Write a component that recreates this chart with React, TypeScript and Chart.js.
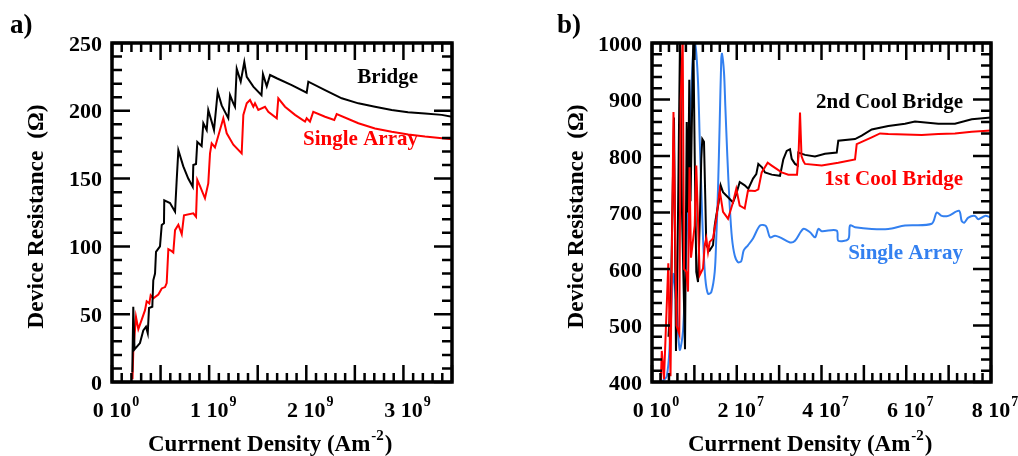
import React, { useEffect, useRef } from "react";
import { Chart, registerables } from "chart.js";

Chart.register(...registerables);

// ---------- Panel a: current density (x1e9 A/m^2) vs device resistance (ohm) ----------
const A_UNIT = 1e9;
const bridgeA: [number, number][] = [
  [0.209, 7], [0.219, 55.5], [0.232, 24], [0.288, 28.7], [0.322, 38], [0.35, 40.8],
  [0.368, 36], [0.381, 54.6], [0.415, 55.5], [0.425, 75], [0.443, 80], [0.453, 96],
  [0.494, 100], [0.512, 115.8], [0.535, 117], [0.538, 134], [0.597, 132], [0.649, 125.6],
  [0.666, 149], [0.683, 171], [0.734, 159], [0.785, 150], [0.831, 144], [0.837, 160],
  [0.865, 160.8], [0.878, 177], [0.923, 174], [0.94, 190.8], [0.975, 185.8], [0.991, 200.6],
  [1.026, 192], [1.05, 185.8], [1.088, 214], [1.129, 204], [1.197, 194.5], [1.215, 211.6],
  [1.249, 205.5], [1.266, 203], [1.284, 231], [1.325, 221.5], [1.362, 236], [1.387, 225],
  [1.455, 217.8], [1.539, 211.5], [1.554, 227], [1.593, 218], [1.627, 226.4], [1.696, 224],
  [1.85, 219], [2.004, 213.4], [2.021, 221.5], [2.193, 215.3], [2.365, 209.2], [2.536, 205.5],
  [2.707, 203], [2.879, 200.6], [3.047, 199], [3.222, 198], [3.394, 197], [3.5, 195.6],
];
const singleA: [number, number][] = [
  [0.211, 2], [0.219, 22.4], [0.247, 48], [0.271, 39], [0.306, 46], [0.34, 53],
  [0.357, 59.5], [0.384, 58], [0.398, 64], [0.425, 61.7], [0.477, 64.5], [0.512, 69],
  [0.546, 70], [0.563, 73], [0.58, 98], [0.615, 96.5], [0.631, 95.5], [0.649, 112],
  [0.683, 116], [0.718, 109], [0.741, 123], [0.837, 124.4], [0.865, 121.9], [0.878, 149],
  [0.906, 144.5], [0.957, 135.5], [0.991, 146.5], [1.009, 168.6], [1.026, 176], [1.06, 173],
  [1.146, 194.5], [1.181, 183.4], [1.249, 175], [1.335, 168.6], [1.352, 197], [1.387, 205.5],
  [1.421, 208], [1.455, 203], [1.472, 205.5], [1.506, 200.6], [1.575, 203], [1.609, 199.3],
  [1.696, 194.5], [1.712, 209.2], [1.781, 203], [1.884, 197], [1.987, 192], [2.004, 194.5],
  [2.038, 192], [2.072, 199.3], [2.193, 195.6], [2.288, 193.2], [2.313, 197.6], [2.536, 190.8],
  [2.707, 187], [2.879, 184.6], [3.05, 182.6], [3.222, 181], [3.5, 179],
];

// ---------- Panel b: current density (x1e7 A/m^2) vs device resistance (ohm) ----------
const B_UNIT = 1e7;
const coolBridge2B: [number, number][] = [
  [0.389, 480], [0.448, 560], [0.519, 868], [0.566, 455], [0.602, 620], [0.661, 1010],
  [0.708, 700], [0.779, 458], [0.819, 860], [0.85, 700], [0.88, 935], [0.909, 720],
  [0.975, 1010], [1.008, 800], [1.045, 595], [1.086, 577], [1.133, 700], [1.163, 795],
  [1.187, 830], [1.227, 825], [1.258, 724], [1.281, 642], [1.362, 633], [1.44, 642],
  [1.48, 677], [1.517, 695], [1.574, 718], [1.621, 748], [1.676, 736], [1.794, 727],
  [1.912, 718], [1.989, 733], [2.07, 754], [2.188, 748], [2.273, 742], [2.384, 760],
  [2.461, 768], [2.509, 786], [2.596, 780], [2.667, 771], [2.825, 767], [3.021, 765],
  [3.099, 794], [3.179, 809], [3.257, 812], [3.297, 795], [3.375, 786], [3.438, 783],
  [3.453, 806], [3.611, 802], [3.847, 799], [4.083, 804], [4.359, 806], [4.396, 827],
  [4.791, 830], [4.949, 836], [5.185, 847], [5.576, 853], [5.971, 857], [6.206, 861],
  [6.757, 857], [7.15, 857], [7.545, 865], [8.0, 868],
];
const coolBridge1B: [number, number][] = [
  [0.208, 400], [0.231, 455], [0.283, 405], [0.385, 610], [0.437, 410], [0.507, 878],
  [0.578, 500], [0.644, 485], [0.677, 898], [0.724, 1010], [0.755, 600], [0.809, 595],
  [0.85, 560], [0.885, 780], [0.92, 620], [1.008, 677], [1.045, 783], [1.126, 589],
  [1.204, 601], [1.244, 642], [1.281, 654], [1.322, 630], [1.362, 648], [1.44, 654],
  [1.517, 689], [1.598, 739], [1.676, 701], [1.794, 689], [1.912, 718], [1.989, 742],
  [2.07, 712], [2.188, 707], [2.265, 739], [2.431, 738], [2.509, 741], [2.589, 771],
  [2.73, 788], [2.825, 783], [3.061, 771], [3.217, 767], [3.422, 767], [3.457, 800],
  [3.493, 877], [3.528, 800], [3.571, 791], [3.611, 786], [4.005, 783], [4.396, 788],
  [4.791, 794], [4.831, 821], [5.185, 833], [5.381, 840], [5.576, 839], [6.364, 837],
  [6.757, 839], [7.15, 840], [7.545, 843], [8.0, 845],
];
const singleArrayB: [number, number][] = [
  [0.224, 400], [0.347, 410], [0.425, 473], [0.503, 591], [0.583, 530], [0.654, 457],
  [0.732, 490], [0.819, 650], [0.897, 850], [0.968, 980], [1.022, 998], [1.086, 931],
  [1.126, 830], [1.163, 742], [1.204, 654], [1.258, 583], [1.322, 556], [1.399, 559],
  [1.48, 595], [1.517, 654], [1.558, 742], [1.598, 860], [1.635, 972], [1.652, 981],
  [1.699, 948], [1.73, 889], [1.777, 801], [1.834, 712], [1.888, 654], [1.952, 624],
  [2.029, 612], [2.107, 614], [2.164, 633], [2.265, 642], [2.384, 654], [2.549, 677],
  [2.69, 676], [2.785, 656], [2.903, 659], [3.021, 656], [3.257, 647], [3.375, 650],
  [3.571, 671], [3.729, 665], [3.847, 656], [3.925, 671], [4.005, 667], [4.359, 668],
  [4.396, 650], [4.632, 653], [4.673, 677], [4.791, 674], [5.185, 671], [5.576, 671],
  [5.971, 677], [6.601, 680], [6.719, 700], [6.837, 694], [6.992, 694], [7.245, 703],
  [7.309, 685], [7.37, 682], [7.464, 691], [7.622, 694], [7.7, 688], [7.858, 694], [8.0, 691],
];

// ---------- Tick labels ----------
const aXTicks = [0, 1e9, 2e9, 3e9];
const aXMant = ["0", "1", "2", "3"];
const aXExp = ["0", "9", "9", "9"];
const aYTicks = [0, 50, 100, 150, 200, 250];

const bXTicks = [0, 2e7, 4e7, 6e7, 8e7];
const bXMant = ["0", "2", "4", "6", "8"];
const bXExp = ["0", "7", "7", "7", "7"];
const bYTicks = [400, 500, 600, 700, 800, 900, 1000];

const SERIF = '"Liberation Serif", "Times New Roman", Times, serif';
const BLUE = "#3380f0";

type Note = { text: string; color: string; x: number; y: number };
type Decor = {
  tag: string;
  tagX: number;
  xTicks: number[];
  xMant: string[];
  xExp: string[];
  yTicks: number[];
  xMinor: number;
  xMajor: number;
  yMinor: number;
  yMajor: number;
  notes: Note[];
};

function decorPlugin(d: Decor) {
  return {
    id: "panelDecor",
    afterDraw(chart: any) {
      const { ctx, chartArea: a, scales } = chart;
      const xs = scales.x;
      const ys = scales.y;
      ctx.save();
      ctx.strokeStyle = "#000";
      ctx.fillStyle = "#000";
      ctx.lineCap = "butt";

      // inward ticks on all four sides
      ctx.lineWidth = 2.5;
      const nx = Math.round((xs.max - xs.min) / d.xMinor);
      for (let i = 0; i <= nx; i++) {
        const v = xs.min + i * d.xMinor;
        const r = v / d.xMajor;
        const len = Math.abs(r - Math.round(r)) < 1e-6 ? 17 : 9;
        const px = xs.getPixelForValue(v);
        ctx.beginPath();
        ctx.moveTo(px, a.bottom);
        ctx.lineTo(px, a.bottom - len);
        ctx.moveTo(px, a.top);
        ctx.lineTo(px, a.top + len);
        ctx.stroke();
      }
      const ny = Math.round((ys.max - ys.min) / d.yMinor);
      for (let i = 0; i <= ny; i++) {
        const v = ys.min + i * d.yMinor;
        const r = v / d.yMajor;
        const len = Math.abs(r - Math.round(r)) < 1e-6 ? 18 : 10;
        const py = ys.getPixelForValue(v);
        ctx.beginPath();
        ctx.moveTo(a.left, py);
        ctx.lineTo(a.left + len, py);
        ctx.moveTo(a.right, py);
        ctx.lineTo(a.right - len, py);
        ctx.stroke();
      }

      // frame
      ctx.lineWidth = 3.5;
      ctx.strokeRect(a.left, a.top, a.right - a.left, a.bottom - a.top);

      // x tick labels, "m 10^e"
      ctx.textBaseline = "alphabetic";
      ctx.textAlign = "left";
      d.xTicks.forEach((v, i) => {
        ctx.font = `bold 22px ${SERIF}`;
        const base = `${d.xMant[i]} 10`;
        const w = ctx.measureText(base).width;
        const x0 = xs.getPixelForValue(v) - w / 2;
        const yb = a.bottom + 35;
        ctx.fillText(base, x0, yb);
        ctx.font = `bold 14px ${SERIF}`;
        ctx.fillText(d.xExp[i], x0 + w + 1, yb - 11);
      });

      // y tick labels
      ctx.font = `bold 22px ${SERIF}`;
      ctx.textAlign = "right";
      d.yTicks.forEach((v) => {
        ctx.fillText(String(v), a.left - 10, ys.getPixelForValue(v) + 7.5);
      });

      // x axis title with superscript
      ctx.textAlign = "left";
      const tBase = "Currnent Density (Am";
      ctx.font = `bold 23px ${SERIF}`;
      let tx = a.left + 36;
      const ty = 451;
      ctx.fillText(tBase, tx, ty);
      tx += ctx.measureText(tBase).width + 1;
      ctx.font = `bold 15px ${SERIF}`;
      ctx.fillText("-2", tx, ty - 11);
      tx += ctx.measureText("-2").width + 1;
      ctx.font = `bold 23px ${SERIF}`;
      ctx.fillText(")", tx, ty);

      // y axis title
      ctx.save();
      ctx.translate(a.left - 69.5, (a.top + a.bottom) / 2 + 4);
      ctx.rotate(-Math.PI / 2);
      ctx.textAlign = "center";
      ctx.font = `bold 23.5px ${SERIF}`;
      ctx.fillText("Device Resistance  (\u03A9)", 0, 0);
      ctx.restore();

      // panel tag
      ctx.textAlign = "left";
      ctx.font = `bold 27px ${SERIF}`;
      ctx.fillText(d.tag, d.tagX, 33);

      // series labels, right-aligned, anchored in data coordinates
      ctx.textAlign = "right";
      ctx.font = `bold 21px ${SERIF}`;
      d.notes.forEach((n) => {
        ctx.fillStyle = n.color;
        ctx.fillText(n.text, xs.getPixelForValue(n.x), ys.getPixelForValue(n.y));
      });
      ctx.restore();
    },
  };
}

function toPoints(rows: [number, number][], unit: number) {
  return rows.map(([j, r]) => ({ x: j * unit, y: r }));
}

function baseOptions(xMax: number, yMin: number, yMax: number, pad: { left: number; right: number }) {
  return {
    responsive: false,
    animation: false as const,
    events: [],
    layout: { padding: { left: pad.left, right: pad.right, top: 43, bottom: 74 } },
    plugins: {
      legend: { display: false },
      tooltip: { enabled: false },
      title: { display: false },
    },
    scales: {
      x: { type: "linear" as const, min: 0, max: xMax, display: false },
      y: { type: "linear" as const, min: yMin, max: yMax, display: false },
    },
    elements: { point: { radius: 0 }, line: { borderWidth: 2, tension: 0 } },
  };
}

export default function App() {
  const refA = useRef<HTMLCanvasElement>(null);
  const refB = useRef<HTMLCanvasElement>(null);

  useEffect(() => {
    const chartA = new Chart(refA.current as HTMLCanvasElement, {
      type: "line",
      data: {
        datasets: [
          { label: "Bridge", data: toPoints(bridgeA, A_UNIT), borderColor: "#000000", borderWidth: 2 },
          { label: "Single Array", data: toPoints(singleA, A_UNIT), borderColor: "#ff0000", borderWidth: 2 },
        ],
      },
      options: baseOptions(3.5e9, 0, 250, { left: 112, right: 48 }) as any,
      plugins: [
        decorPlugin({
          tag: "a)",
          tagX: 10,
          xTicks: aXTicks,
          xMant: aXMant,
          xExp: aXExp,
          yTicks: aYTicks,
          xMinor: 1e8,
          xMajor: 5e8,
          yMinor: 10,
          yMajor: 50,
          notes: [
            { text: "Bridge", color: "#000000", x: 3.15e9, y: 220.6 },
            { text: "Single Array", color: "#ff0000", x: 3.15e9, y: 175 },
          ],
        }),
      ],
    });

    const chartB = new Chart(refB.current as HTMLCanvasElement, {
      type: "line",
      data: {
        datasets: [
          { label: "1st Cool Bridge", data: toPoints(coolBridge1B, B_UNIT), borderColor: "#ff0000", borderWidth: 2 },
          { label: "2nd Cool Bridge", data: toPoints(coolBridge2B, B_UNIT), borderColor: "#000000", borderWidth: 2 },
          { label: "Single Array", data: toPoints(singleArrayB, B_UNIT), borderColor: BLUE, borderWidth: 2, tension: 0.3 },
        ],
      },
      options: baseOptions(8e7, 400, 1000, { left: 152, right: 27 }) as any,
      plugins: [
        decorPlugin({
          tag: "b)",
          tagX: 57,
          xTicks: bXTicks,
          xMant: bXMant,
          xExp: bXExp,
          yTicks: bYTicks,
          xMinor: 2e6,
          xMajor: 1e7,
          yMinor: 20,
          yMajor: 100,
          notes: [
            { text: "2nd Cool Bridge", color: "#000000", x: 7.34e7, y: 885 },
            { text: "1st Cool Bridge", color: "#ff0000", x: 7.34e7, y: 749 },
            { text: "Single Array", color: BLUE, x: 7.34e7, y: 618 },
          ],
        }),
      ],
    });

    return () => {
      chartA.destroy();
      chartB.destroy();
    };
  }, []);

  return (
    <div style={{ position: "absolute", left: 0, top: 0, width: 1018, height: 456, background: "#ffffff" }}>
      <canvas ref={refA} width={500} height={456} style={{ position: "absolute", left: 0, top: 0 }} />
      <canvas ref={refB} width={518} height={456} style={{ position: "absolute", left: 500, top: 0 }} />
    </div>
  );
}
